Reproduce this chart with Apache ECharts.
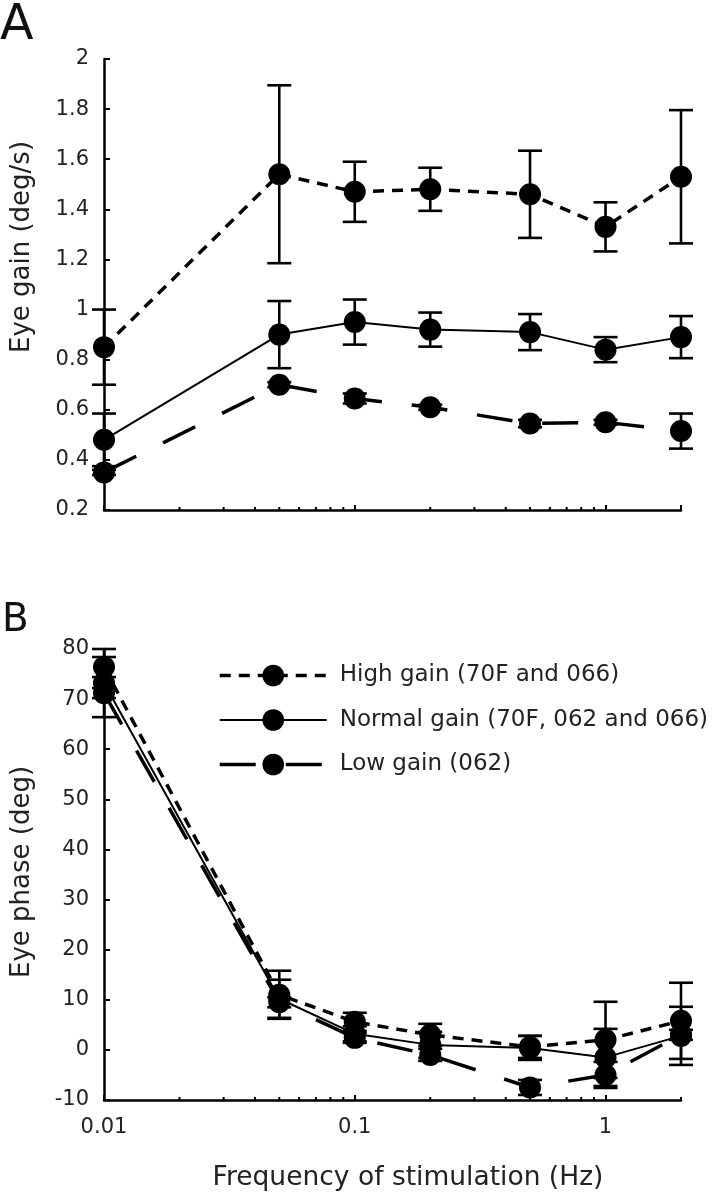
<!DOCTYPE html>
<html>
<head>
<meta charset="utf-8">
<script src="https://cdn.jsdelivr.net/npm/echarts@6/dist/echarts.min.js"></script>
<style>
html,body{margin:0;padding:0;background:#fff;}
#chart{width:718px;height:1199px;}
</style>
</head>
<body>
<div id="chart"></div>
<script>
// ---------- data ----------
const freq = [0.01, 0.05, 0.1, 0.2, 0.5, 1, 2];
const seriesNames = ['High gain (70F and 066)', 'Normal gain (70F, 062 and 066)', 'Low gain (062)'];

const gainHigh      = [0.85, 1.54, 1.47, 1.48, 1.46, 1.33, 1.53];
const gainHighErr   = [0.15, 0.355, 0.12, 0.086, 0.174, 0.098, 0.266];
const gainNormal    = [0.48, 0.90, 0.95, 0.92, 0.91, 0.84, 0.89];
const gainNormalErr = [0.105, 0.134, 0.09, 0.068, 0.072, 0.05, 0.084];
const gainLow       = [0.35, 0.70, 0.645, 0.61, 0.545, 0.55, 0.515];
const gainLowErr    = [0.01, 0.01, 0.02, 0.01, 0.015, 0.01, 0.07];

const phaseHigh      = [76.4, 11, 5.6, 3, 0.6, 2, 5.8];
const phaseHighErr   = [2, 4.8, 1.8, 2.2, 2.2, 7.6, 7.6];
const phaseNormal    = [73.2, 10.2, 3.2, 1, 0.4, -1.5, 2.8];
const phaseNormalErr = [6.8, 3.8, 1.5, 2.6, 2.4, 5.7, 5.8];
const phaseLow       = [71.2, 9.5, 2.4, -1, -7.5, -5, 3];
const phaseLowErr    = [1, 1, 1, 1.2, 1.5, 2.6, 1];

const minorTickFreq = [0.02,0.03,0.04,0.05,0.06,0.07,0.08,0.09,0.2,0.3,0.4,0.5,0.6,0.7,0.8,0.9,2];
const gainAxis  = {min: 0.2, max: 2, interval: 0.2};
const phaseAxis = {min: -10, max: 80, interval: 10};
const xRange = {min: 0.01, max: 2};

// ---------- styles ----------
const FONT = '"DejaVu Sans", "Noto Sans", sans-serif';
const lineStyles = [
  {color:'#000', width:3.5, type:[11, 8]},
  {color:'#000', width:2, type:'solid'},
  {color:'#000', width:3.5, type:[36, 30]}
];

function pts(vals){ return freq.map((f,i)=>[f, vals[i]]); }
function errPts(vals, errs){ return freq.map((f,i)=>[f, vals[i], errs[i]]); }

function lineSeries(name, vals, idx, styleIdx){
  return {
    type:'line', name:name, xAxisIndex:idx, yAxisIndex:idx,
    data:pts(vals), symbol:'circle', symbolSize:22, clip:false,
    itemStyle:{color:'#000'}, lineStyle:lineStyles[styleIdx], z:5,
    emphasis:{disabled:true}
  };
}
function errSeries(vals, errs, idx){
  return {
    type:'custom', xAxisIndex:idx, yAxisIndex:idx, clip:false, z:3, silent:true,
    data:errPts(vals, errs), encode:{x:0, y:1},
    renderItem:function(params, api){
      const x = api.value(0), y = api.value(1), e = api.value(2);
      const t = api.coord([x, y + e]), b = api.coord([x, y - e]);
      const hw = 12, st = {stroke:'#000', lineWidth:2.6};
      return {type:'group', children:[
        {type:'line', shape:{x1:t[0], y1:t[1], x2:b[0], y2:b[1]}, style:st},
        {type:'line', shape:{x1:t[0]-hw, y1:t[1], x2:t[0]+hw, y2:t[1]}, style:st},
        {type:'line', shape:{x1:b[0]-hw, y1:b[1], x2:b[0]+hw, y2:b[1]}, style:st}
      ]};
    }
  };
}
function minorTickSeries(idx, yMin){
  return {
    type:'custom', xAxisIndex:idx, yAxisIndex:idx, clip:false, z:2, silent:true,
    data:minorTickFreq.map(f=>[f, yMin]), encode:{x:0, y:1},
    renderItem:function(params, api){
      const p = api.coord([api.value(0), api.value(1)]);
      return {type:'line', shape:{x1:p[0], y1:p[1], x2:p[0], y2:p[1]-3}, style:{stroke:'#000', lineWidth:2}};
    }
  };
}

function xAxisDef(idx, showLabels){
  return {
    type:'log', logBase:10, gridIndex:idx, min:xRange.min, max:xRange.max,
    axisLine:{onZero:false, lineStyle:{color:'#000', width:2.5}},
    axisTick:{show:true, inside:true, length:5, lineStyle:{color:'#000', width:2}},
    minorTick:{show:false},
    splitLine:{show:false},
    axisLabel:{show:showLabels, showMaxLabel:false, margin:17, color:'#222', fontSize:21, fontFamily:FONT,
      formatter:function(v){ return String(+v.toPrecision(3)); }}
  };
}
function yAxisDef(idx, r){
  return {
    type:'value', gridIndex:idx, min:r.min, max:r.max, interval:r.interval,
    axisLine:{show:true, onZero:false, lineStyle:{color:'#000', width:2.5}},
    axisTick:{show:true, inside:true, length:6, lineStyle:{color:'#000', width:2}},
    splitLine:{show:false},
    axisLabel:{margin:15, color:'#222', fontSize:21, fontFamily:FONT}
  };
}

const option = {
  backgroundColor:'#fff',
  animation:false,
  textStyle:{fontFamily:FONT},
  grid:[
    {left:104, top:59, width:577, height:451},
    {left:104, top:649, width:577, height:451}
  ],
  xAxis:[xAxisDef(0, false), xAxisDef(1, true)],
  yAxis:[yAxisDef(0, gainAxis), yAxisDef(1, phaseAxis)],
  legend:{
    data:seriesNames.map((n,i)=>({name:n, lineStyle:lineStyles[i]})),
    orient:'vertical', left:213, top:659,
    itemWidth:107, itemHeight:27, itemGap:21.5,
    textStyle:{fontSize:23, color:'#222', fontFamily:FONT, padding:[0,0,0,8]},
    selectedMode:false
  },
  graphic:[
    {type:'text', left:0, top:2, style:{text:'A', fontSize:49, fill:'#111', fontFamily:FONT}},
    {type:'text', left:2, top:601, style:{text:'B', fontSize:39, fill:'#111', fontFamily:FONT}},
    {type:'text', x:22, y:247, rotation:Math.PI/2, style:{text:'Eye gain (deg/s)', fontSize:26, fill:'#222', fontFamily:FONT, align:'center', verticalAlign:'middle'}},
    {type:'text', x:22, y:872, rotation:Math.PI/2, style:{text:'Eye phase (deg)', fontSize:26, fill:'#222', fontFamily:FONT, align:'center', verticalAlign:'middle'}},
    {type:'text', x:408, y:1178, style:{text:'Frequency of stimulation (Hz)', fontSize:26.5, fill:'#222', fontFamily:FONT, align:'center', verticalAlign:'middle'}}
  ],
  series:[
    minorTickSeries(0, gainAxis.min),
    minorTickSeries(1, phaseAxis.min),
    errSeries(gainHigh, gainHighErr, 0),
    errSeries(gainNormal, gainNormalErr, 0),
    errSeries(gainLow, gainLowErr, 0),
    errSeries(phaseHigh, phaseHighErr, 1),
    errSeries(phaseNormal, phaseNormalErr, 1),
    errSeries(phaseLow, phaseLowErr, 1),
    lineSeries(seriesNames[0], gainHigh, 0, 0),
    lineSeries(seriesNames[1], gainNormal, 0, 1),
    lineSeries(seriesNames[2], gainLow, 0, 2),
    lineSeries(seriesNames[0], phaseHigh, 1, 0),
    lineSeries(seriesNames[1], phaseNormal, 1, 1),
    lineSeries(seriesNames[2], phaseLow, 1, 2)
  ]
};
const chart = echarts.init(document.getElementById('chart'), null, {renderer:'canvas'});
chart.setOption(option);
</script>
</body>
</html>
